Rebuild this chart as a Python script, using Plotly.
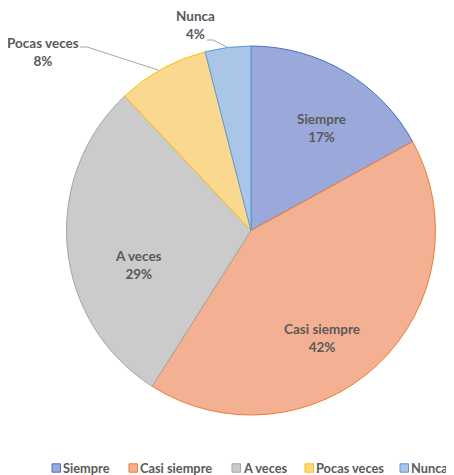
import plotly.graph_objects as go

categories = ["Siempre", "Casi siempre", "A veces", "Pocas veces", "Nunca"]
values = [17, 42, 29, 8, 4]
fill_colors = ["#9aa9da", "#f4b093", "#cbcbcb", "#fbd88f", "#a9c6e8"]
edge_colors = ["#4472c4", "#ed7d31", "#a5a5a5", "#ffc000", "#5b9bd5"]

# page body has an 8px margin, so the figure is drawn at (8, 8)
OFF = 8
W, H = 454 - OFF, 475 - OFF
FONT = "Lato"
FS = 13.5
LFS = 12.8
TXT = "#595959"

def px(x):
    return (x - OFF) / W

def py(y):
    return 1 - (y - OFF) / H

cx, cy, R = 251, 230.5, 184.5

fig = go.Figure(go.Pie(
    labels=categories,
    values=values,
    sort=False,
    direction="clockwise",
    rotation=0,
    marker=dict(colors=fill_colors, line=dict(color=edge_colors, width=1)),
    textinfo="none",
    showlegend=False,
    hoverinfo="label+percent",
    domain=dict(x=[px(cx - R), px(cx + R)], y=[py(cy + R), py(cy - R)]),
))

annotations = []
shapes = []

# data label placement (pixel positions in the page)
label_pos = {
    "Siempre": (321, 128),
    "Casi siempre": (322, 338),
    "A veces": (138, 265),
    "Pocas veces": (43, 52),
    "Nunca": (195, 25),
}
leader_lines = {
    "Pocas veces": [(80, 47), (87, 47), (158, 70)],
    "Nunca": [(207, 40), (213, 40), (227, 47)],
}
total = sum(values)
for cat, v in zip(categories, values):
    x, y = label_pos[cat]
    annotations.append(dict(
        x=px(x), y=py(y), xref="paper", yref="paper",
        text=f"<b>{cat}</b><br><b>{round(100 * v / total)}%</b>",
        showarrow=False, font=dict(family=FONT, size=FS, color=TXT),
        xanchor="center", yanchor="middle", align="center"))
    if cat in leader_lines:
        pts = leader_lines[cat]
        path = "M " + " L ".join(f"{px(a)},{py(b)}" for a, b in pts)
        shapes.append(dict(type="path", xref="paper", yref="paper", path=path,
                           line=dict(color="#a6a6a6", width=1)))

# legend
sq_x = [52, 129, 232, 305, 400]
ly = 468
for cat, fc, ec, sx in zip(categories, fill_colors, edge_colors, sq_x):
    shapes.append(dict(type="rect", xref="paper", yref="paper",
                       x0=px(sx), x1=px(sx + 8.5), y0=py(ly + 4.2), y1=py(ly - 4.2),
                       fillcolor=fc, line=dict(color=ec, width=1)))
    annotations.append(dict(x=px(sx + 10.5), y=py(ly), xref="paper", yref="paper",
                            text=f"<b>{cat}</b>", showarrow=False, xshift=-1,
                            xanchor="left", yanchor="middle", borderpad=0,
                            font=dict(family=FONT, size=LFS, color=TXT)))

fig.update_layout(
    width=W, height=H,
    margin=dict(l=0, r=0, t=0, b=0),
    paper_bgcolor="white",
    plot_bgcolor="white",
    annotations=annotations,
    shapes=shapes,
)

fig.write_html("out.html")
